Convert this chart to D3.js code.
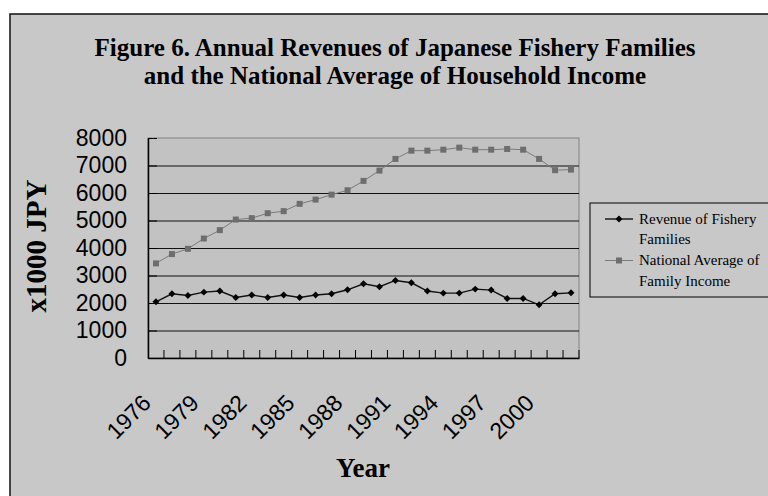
<!DOCTYPE html>
<html>
<head>
<meta charset="utf-8">
<script src="https://cdn.jsdelivr.net/npm/d3@7"></script>
<style>
  body { margin: 0; background: #fff; }
  svg { display: block; }
</style>
</head>
<body>
<div id="chart"></div>
<script>
var years = d3.range(1976, 2003).map(String)
var revenueFishery = [2045, 2335, 2275, 2395, 2435, 2200, 2290, 2200, 2290, 2200, 2290, 2335, 2480,
    2700, 2590, 2820, 2735, 2435, 2360, 2360, 2505, 2470, 2165, 2165, 1935, 2335, 2370]
var nationalAverage = [3440, 3780, 3970, 4345, 4650, 5035, 5085, 5265, 5340, 5605, 5760, 5940, 6100,
    6440, 6815, 7240, 7540, 7540, 7575, 7650, 7575, 7575, 7600, 7575, 7240, 6830, 6850]
var yTicks = [0, 1000, 2000, 3000, 4000, 5000, 6000, 7000, 8000]
var titleLines = ['Figure 6. Annual Revenues of Japanese Fishery Families',
    'and the National Average of Household Income']
var legendLabels = [['Revenue of Fishery', 'Families'], ['National Average of', 'Family Income']]

var svgWidth = 768, svgHeight = 496
var plot = { left: 148, top: 138, right: 579, bottom: 358 }
var serif = '"Liberation Serif", "Times New Roman", serif',
    sans = '"Liberation Sans", Arial, sans-serif'

var svg = d3.select('#chart').append('svg')
    .attr('width', svgWidth)
    .attr('height', svgHeight)

// chart area frame, runs off the right and bottom edges
svg.append('rect')
    .attr('x', 10).attr('y', 14)
    .attr('width', 780).attr('height', 500)
    .attr('fill', '#c8c8c8')
    .attr('stroke', '#111')
    .attr('stroke-width', 1.5)

// title
svg.append('g').selectAll('text')
    .data(titleLines)
    .join('text')
    .attr('x', 395)
    .attr('y', (d, i) => 56 + i * 28)
    .attr('text-anchor', 'middle')
    .style('font-family', serif)
    .style('font-weight', 'bold')
    .style('font-size', '25px')
    .text(d => d)

var x = d3.scaleBand()
    .domain(years)
    .range([plot.left, plot.right])
    .padding(0)

var y = d3.scaleLinear()
    .domain([0, 8000])
    .range([plot.bottom, plot.top])

// plot area
svg.append('rect')
    .attr('x', plot.left).attr('y', plot.top)
    .attr('width', plot.right - plot.left)
    .attr('height', plot.bottom - plot.top)
    .attr('fill', '#c2c2c2')
    .attr('stroke', '#808080')

// gridlines
svg.append('g').selectAll('line')
    .data(yTicks.filter(d => d > 0 && d < 8000))
    .join('line')
    .attr('x1', plot.left).attr('x2', plot.right)
    .attr('y1', d => y(d) + 0.5).attr('y2', d => y(d) + 0.5)
    .attr('stroke', '#111')

// y axis
var yAxis = svg.append('g')
    .attr('transform', 'translate(' + plot.left + ',0)')
    .call(d3.axisLeft(y).tickValues(yTicks).tickFormat(d3.format('d'))
        .tickSizeInner(-9).tickSizeOuter(0).tickPadding(21))
yAxis.select('.domain').attr('stroke', '#000').attr('stroke-width', 1.5)
yAxis.selectAll('.tick line').attr('stroke', '#000')
yAxis.selectAll('text')
    .style('font-family', sans)
    .style('font-size', '23px')
    .attr('fill', '#000')

// x axis, ticks sit on the band edges
var xAxis = svg.append('g')
    .attr('transform', 'translate(0,' + plot.bottom + ')')
    .call(d3.axisBottom(x).tickSize(0).tickFormat(''))
xAxis.select('.domain').attr('stroke', '#000').attr('stroke-width', 1.5)

svg.append('g').selectAll('line')
    .data(years)
    .join('line')
    .attr('x1', d => x(d) + x.bandwidth()).attr('x2', d => x(d) + x.bandwidth())
    .attr('y1', plot.bottom).attr('y2', plot.bottom - 8)
    .attr('stroke', '#000')

svg.append('g').selectAll('text')
    .data(years.filter((d, i) => i % 3 === 0))
    .join('text')
    .attr('transform', d => 'translate(' + (x(d) + x.bandwidth() / 2 - 15) + ',' + (plot.bottom + 35) + ') rotate(-45)')
    .attr('text-anchor', 'end')
    .attr('dy', '0.7em')
    .style('font-family', sans)
    .style('font-size', '23px')
    .text(d => d)

// axis titles
svg.append('text')
    .attr('x', 363).attr('y', 477)
    .attr('text-anchor', 'middle')
    .style('font-family', serif)
    .style('font-weight', 'bold')
    .style('font-size', '27px')
    .text('Year')

svg.append('text')
    .attr('transform', 'translate(46,246) rotate(-90)')
    .attr('text-anchor', 'middle')
    .style('font-family', serif)
    .style('font-weight', 'bold')
    .style('font-size', '29px')
    .text('x1000 JPY')

// series
var cx = (d, i) => x(years[i]) + x.bandwidth() / 2
var line = d3.line().x(cx).y(d => y(d))

svg.append('path')
    .datum(nationalAverage)
    .attr('d', line)
    .attr('fill', 'none')
    .attr('stroke', '#7a7a7a')
    .attr('stroke-width', 1)

svg.append('g').selectAll('path')
    .data(nationalAverage)
    .join('path')
    .attr('transform', (d, i) => 'translate(' + cx(d, i) + ',' + y(d) + ')')
    .attr('d', d3.symbol(d3.symbolSquare, 36))
    .attr('fill', '#6e6e6e')

svg.append('path')
    .datum(revenueFishery)
    .attr('d', line)
    .attr('fill', 'none')
    .attr('stroke', '#111')
    .attr('stroke-width', 1.4)

svg.append('g').selectAll('path')
    .data(revenueFishery)
    .join('path')
    .attr('transform', (d, i) => 'translate(' + cx(d, i) + ',' + y(d) + ') rotate(45)')
    .attr('d', d3.symbol(d3.symbolSquare, 24))
    .attr('fill', '#000')

// legend
var legend = svg.append('g')
legend.append('rect')
    .attr('x', 590).attr('y', 203)
    .attr('width', 200).attr('height', 94)
    .attr('fill', 'none')
    .attr('stroke', '#000')

var legendRows = legend.selectAll('g')
    .data(legendLabels)
    .join('g')
    .attr('transform', (d, i) => 'translate(0,' + (219 + i * 41.5) + ')')

legendRows.append('line')
    .attr('x1', 605).attr('x2', 633)
    .attr('stroke', (d, i) => i === 0 ? '#111' : '#7a7a7a')
    .attr('stroke-width', (d, i) => i === 0 ? 1.4 : 1)

legendRows.append('path')
    .attr('transform', (d, i) => 'translate(619,0)' + (i === 0 ? ' rotate(45)' : ''))
    .attr('d', (d, i) => d3.symbol(d3.symbolSquare, i === 0 ? 24 : 36)())
    .attr('fill', (d, i) => i === 0 ? '#000' : '#6e6e6e')

legendRows.selectAll('text')
    .data(d => d)
    .join('text')
    .attr('x', 639)
    .attr('y', (d, i) => 4.5 + i * 20.5)
    .style('font-family', serif)
    .style('font-size', '15px')
    .text(d => d)
</script>
</body>
</html>
